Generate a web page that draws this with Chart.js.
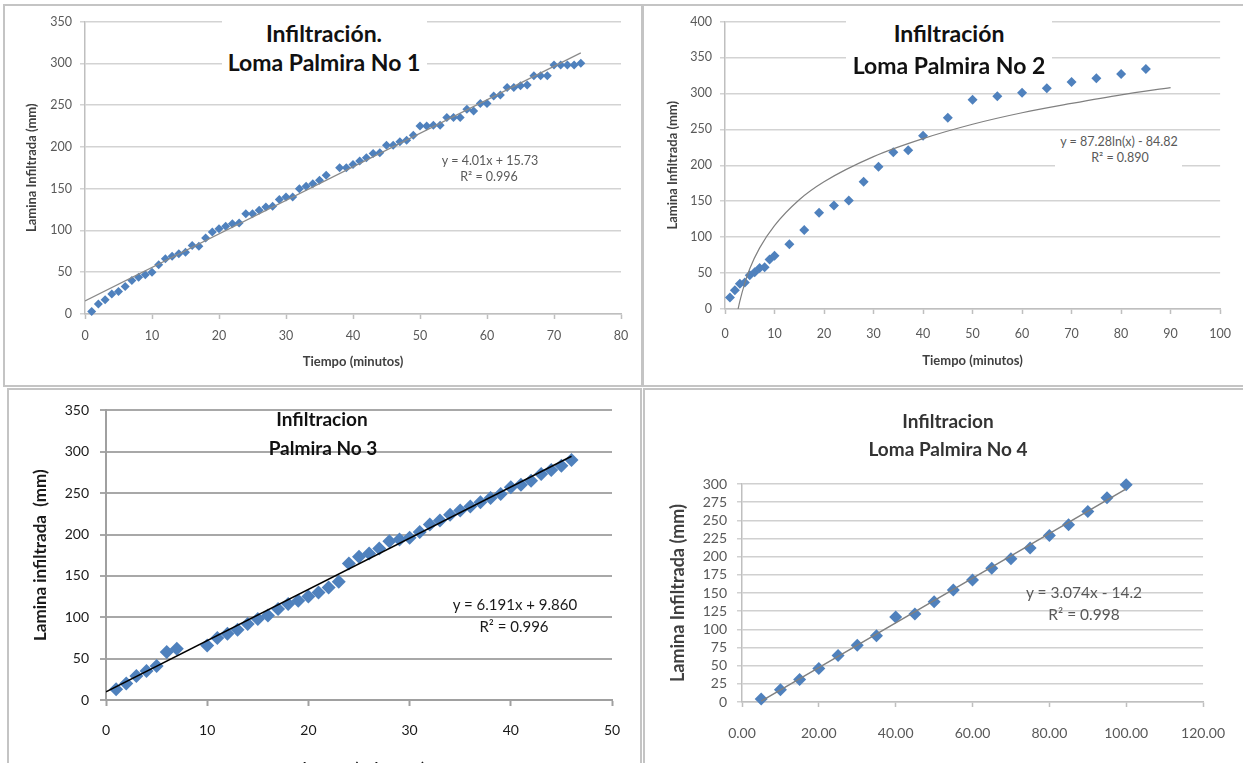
<!DOCTYPE html>
<html>
<head>
<meta charset="utf-8">
<script src="https://cdn.jsdelivr.net/npm/chart.js@4.4.0/dist/chart.umd.min.js"></script>
<style>
  html, body { margin: 0; padding: 0; background: #fff; }
  body { width: 1243px; height: 763px; overflow: hidden; position: relative; font-family: Lato, 'Open Sans', sans-serif; }
  .panel { position: absolute; border: 2px solid #c4c4c4; box-sizing: border-box; }
  .box { position: absolute; }
  .box canvas { display: block; }
  .txt { position: absolute; transform: translate(-50%, -50%); white-space: nowrap; line-height: 1; }
  .white { position: absolute; background: #fff; }
  .big { font-size: 23px; font-weight: bold; color: #111; }
  .eq { font-size: 12.5px; color: #595959; }
</style>
</head>
<body>
<div class="panel" style="left:3px;top:4px;width:640px;height:383px"></div>
<div class="panel" style="left:642px;top:4px;width:605px;height:383px"></div>
<div class="panel" style="left:7px;top:388px;width:635px;height:390px"></div>
<div class="panel" style="left:643px;top:388px;width:605px;height:390px"></div>

<div class="box" style="left:5px;top:6px"><canvas id="c1" width="635" height="379"></canvas></div>
<div class="box" style="left:645px;top:6px"><canvas id="c2" width="598" height="379"></canvas></div>
<div class="box" style="left:9px;top:391px"><canvas id="c3" width="630" height="390"></canvas></div>
<div class="box" style="left:645px;top:391px"><canvas id="c4" width="598" height="390"></canvas></div>

<!-- chart 1 texts -->
<div class="white" style="left:222px;top:12px;width:205px;height:66px"></div>
<div class="txt big" style="left:324px;top:33px">Infiltración.</div>
<div class="txt big" style="left:324px;top:62px">Loma Palmira No 1</div>
<div class="txt eq" style="left:490px;top:161px">y = 4.01x + 15.73</div>
<div class="txt eq" style="left:489px;top:177px">R² = 0.996</div>

<!-- chart 2 texts -->
<div class="white" style="left:846px;top:12px;width:206px;height:66px"></div>
<div class="txt big" style="left:949px;top:33px">Infiltración</div>
<div class="txt big" style="left:949px;top:65px">Loma Palmira No 2</div>
<div class="white" style="left:1055px;top:132px;width:127px;height:36px"></div>
<div class="txt eq" style="left:1119px;top:142px">y = 87.28ln(x) - 84.82</div>
<div class="txt eq" style="left:1120px;top:158px">R² = 0.890</div>

<!-- chart 3 texts -->
<div class="txt" style="left:322px;top:418px;font-size:19px;font-weight:bold;color:#111">Infiltracion</div>
<div class="txt" style="left:323px;top:447px;font-size:19px;font-weight:bold;color:#111">Palmira No 3</div>
<div class="txt" style="left:515px;top:604px;font-size:15px;color:#1a1a1a">y = 6.191x + 9.860</div>
<div class="txt" style="left:514px;top:626px;font-size:15px;color:#1a1a1a">R² = 0.996</div>

<!-- chart 4 texts -->
<div class="txt" style="left:948px;top:420px;font-size:19px;font-weight:bold;color:#333">Infiltracion</div>
<div class="txt" style="left:948px;top:448px;font-size:19px;font-weight:bold;color:#333">Loma Palmira No 4</div>
<div class="txt" style="left:1084px;top:593px;font-size:15.5px;color:#595959">y = 3.074x - 14.2</div>
<div class="txt" style="left:1084px;top:615px;font-size:15.5px;color:#595959">R² = 0.998</div>

<script>
// Loma Palmira No 1
const time1 = [1, 2, 3, 4, 5, 6, 7, 8, 9, 10, 11, 12, 13, 14, 15, 16, 17, 18, 19, 20,
  21, 22, 23, 24, 25, 26, 27, 28, 29, 30, 31, 32, 33, 34, 35, 36, 38, 39, 40, 41,
  42, 43, 44, 45, 46, 47, 48, 49, 50, 51, 52, 53, 54, 55, 56, 57, 58, 59, 60, 61,
  62, 63, 64, 65, 66, 67, 68, 69, 70, 71, 72, 73, 74]
const lamina1 = [3, 12, 17, 24, 27, 33, 40, 44, 47, 50, 59, 66, 69, 72, 74, 82, 81, 91, 98, 102,
  105, 108, 109, 120, 120, 124, 128, 129, 137, 140, 140, 150, 153, 156, 160, 166, 175, 175, 179, 183,
  187, 192, 193, 202, 202, 206, 208, 214, 225, 225, 226, 226, 235, 235, 235, 245, 243, 252, 252, 261,
  262, 271, 271, 273, 274, 285, 285, 285, 298, 298, 298, 298, 300]
const trend1X = [0, 74]
const trend1Y = [15.7, 312.5]
const xTicks1 = [0, 10, 20, 30, 40, 50, 60, 70, 80]
const yTicks1 = [0, 50, 100, 150, 200, 250, 300, 350]

// Loma Palmira No 2
const time2 = [1, 2, 3, 4, 5, 6, 7, 8, 9, 10, 13, 16, 19, 22, 25, 28, 31, 34, 37, 40,
  45, 50, 55, 60, 65, 70, 75, 80, 85]
const lamina2 = [16, 26, 35, 37, 47, 51, 57, 58, 69, 74, 90, 110, 134, 144, 151, 177, 198, 218, 221, 241,
  266, 291, 296, 301, 307, 316, 321, 327, 334]
const trend2X = [2.64, 3, 4, 5, 7, 10, 15, 20, 30, 40, 50, 60, 70, 80, 90]
const trend2Y = [0, 11, 36, 56, 85, 116, 152, 177, 212, 237, 257, 273, 286, 298, 308]
const xTicks2 = [0, 10, 20, 30, 40, 50, 60, 70, 80, 90, 100]
const yTicks2 = [0, 50, 100, 150, 200, 250, 300, 350, 400]

// Palmira No 3
const time3 = [1, 2, 3, 4, 5, 6, 7, 10, 11, 12, 13, 14, 15, 16, 17, 18, 19, 20, 21, 22,
  23, 24, 25, 26, 27, 28, 29, 30, 31, 32, 33, 34, 35, 36, 37, 38, 39, 40, 41, 42,
  43, 44, 45, 46]
const lamina3 = [13, 20, 29, 35, 41, 58, 62, 66, 75, 80, 85, 92, 98, 102, 110, 116, 120, 125, 130, 136,
  143, 165, 173, 177, 183, 192, 194, 196, 203, 212, 217, 224, 229, 234, 239, 244, 249, 257, 260, 265,
  273, 278, 283, 290]
const trend3X = [0, 46]
const trend3Y = [9.9, 294.6]
const xTicks3 = [0, 10, 20, 30, 40, 50]
const yTicks3 = [0, 50, 100, 150, 200, 250, 300, 350]

// Loma Palmira No 4
const time4 = [5, 10, 15, 20, 25, 30, 35, 40, 45, 50, 55, 60, 65, 70, 75, 80, 85, 90, 95, 100]
const lamina4 = [4, 17, 31, 46, 64, 78, 91, 117, 121, 138, 154, 168, 184, 197, 212, 229, 244, 262, 281, 299]
const trend4X = [5, 100]
const trend4Y = [1.2, 293.2]
const xTicks4 = [0, 20, 40, 60, 80, 100, 120]
const yTicks4 = [0, 25, 50, 75, 100, 125, 150, 175, 200, 225, 250, 275, 300]

const BLUE = '#4f81bd'
Chart.defaults.font.family = 'Lato'

function points(xs, ys) {
  return xs.map((x, i) => ({ x: x, y: ys[i] }))
}

function makeChart(id, box, area, o) {
  const padTop = area.top - box.top
  const padRight = box.left + box.width - area.right
  const yWidth = area.left - box.left
  const xHeight = box.top + box.height - area.bottom
  const lh = o.titleSize * 1.2
  const yTitlePad = o.yTitleX - box.left - lh / 2
  const xTitlePad = box.top + box.height - o.xTitleY - lh / 2
  const tickFont = { size: o.tickSize, lineHeight: 1.2 }
  const titleFont = { size: o.titleSize, weight: 'bold' }

  return new Chart(document.getElementById(id), {
    type: 'scatter',
    data: {
      datasets: [
        {
          data: points(o.trendX, o.trendY),
          showLine: true,
          borderColor: o.trendColor,
          borderWidth: o.trendWidth,
          pointRadius: 0,
          cubicInterpolationMode: 'monotone',
        },
        {
          data: points(o.xs, o.ys),
          pointStyle: 'rectRot',
          pointRadius: o.marker,
          backgroundColor: BLUE,
          borderColor: BLUE,
          borderWidth: 0,
          clip: false,
        },
      ],
    },
    options: {
      responsive: false,
      animation: false,
      layout: { padding: { top: padTop, right: padRight, left: 0, bottom: 0 } },
      plugins: { legend: { display: false }, tooltip: { enabled: false } },
      scales: {
        x: {
          type: 'linear',
          min: o.xTicks[0],
          max: o.xTicks[o.xTicks.length - 1],
          afterBuildTicks: (s) => { s.ticks = o.xTicks.map((v) => ({ value: v })) },
          afterFit: (s) => { s.height = xHeight },
          ticks: {
            color: o.tickColor,
            font: tickFont,
            padding: o.padX,
            maxRotation: 0,
            autoSkip: false,
            callback: (v) => (o.xDecimals ? v.toFixed(2) : v),
          },
          grid: {
            drawOnChartArea: false,
            tickLength: o.tickLen,
            tickColor: o.axisColor,
            tickWidth: o.gridWidth,
          },
          border: { color: o.axisColor, width: o.gridWidth },
          title: {
            display: true,
            text: o.xTitle,
            color: o.titleColor,
            font: titleFont,
            padding: { top: 0, bottom: xTitlePad },
          },
        },
        y: {
          type: 'linear',
          min: o.yTicks[0],
          max: o.yTicks[o.yTicks.length - 1],
          afterBuildTicks: (s) => { s.ticks = o.yTicks.map((v) => ({ value: v })) },
          afterFit: (s) => { s.width = yWidth },
          ticks: { color: o.tickColor, font: tickFont, padding: o.padY, autoSkip: false },
          grid: {
            color: o.gridColor,
            lineWidth: o.gridWidth,
            tickLength: o.tickLen,
            tickColor: o.gridColor,
          },
          border: { color: o.axisColor, width: o.gridWidth },
          title: {
            display: true,
            text: o.yTitle,
            color: o.titleColor,
            font: titleFont,
            padding: { top: yTitlePad, bottom: 0 },
          },
        },
      },
    },
  })
}

makeChart('c1', { left: 5, top: 6, width: 635, height: 379 }, { left: 85, right: 621, top: 21, bottom: 314 }, {
  xs: time1, ys: lamina1, trendX: trend1X, trendY: trend1Y, xTicks: xTicks1, yTicks: yTicks1,
  trendColor: '#8a8a8a', trendWidth: 1.2, marker: 4.5,
  tickSize: 12.5, tickColor: '#595959', padX: 9, padY: 8, tickLen: 5,
  gridColor: '#d3d3d3', gridWidth: 1.5, axisColor: '#bfbfbf',
  xTitle: 'Tiempo (minutos)', yTitle: 'Lamina Infiltrada (mm)', titleSize: 13, titleColor: '#404040',
  yTitleX: 32, xTitleY: 362,
})

makeChart('c2', { left: 645, top: 6, width: 598, height: 379 }, { left: 725, right: 1227, top: 20.5, bottom: 309 }, {
  xs: time2, ys: lamina2, trendX: trend2X, trendY: trend2Y, xTicks: xTicks2, yTicks: yTicks2,
  trendColor: '#808080', trendWidth: 1.2, marker: 5,
  tickSize: 12.5, tickColor: '#595959', padX: 12, padY: 8, tickLen: 5,
  gridColor: '#d3d3d3', gridWidth: 1.5, axisColor: '#bfbfbf',
  xTitle: 'Tiempo (minutos)', yTitle: 'Lamina Infiltrada (mm)', titleSize: 13, titleColor: '#404040',
  yTitleX: 673, xTitleY: 361,
})

makeChart('c3', { left: 9, top: 391, width: 630, height: 390 }, { left: 106, right: 612, top: 409, bottom: 700 }, {
  xs: time3, ys: lamina3, trendX: trend3X, trendY: trend3Y, xTicks: xTicks3, yTicks: yTicks3,
  trendColor: '#000000', trendWidth: 1.5, marker: 7,
  tickSize: 14, tickColor: '#1a1a1a', padX: 16, padY: 11, tickLen: 6,
  gridColor: '#a8a8a8', gridWidth: 2, axisColor: '#a0a0a0',
  xTitle: 'Tiempo (Minutos)', yTitle: 'Lamina infiltrada  (mm)', titleSize: 17, titleColor: '#1a1a1a',
  yTitleX: 41, xTitleY: 770,
})

makeChart('c4', { left: 645, top: 391, width: 598, height: 390 }, { left: 742, right: 1212, top: 484, bottom: 702 }, {
  xs: time4, ys: lamina4, trendX: trend4X, trendY: trend4Y, xTicks: xTicks4, yTicks: yTicks4, xDecimals: true,
  trendColor: '#808080', trendWidth: 1.5, marker: 6.5,
  tickSize: 14, tickColor: '#595959', padX: 18, padY: 10, tickLen: 5,
  gridColor: '#d0d0d0', gridWidth: 1.5, axisColor: '#bfbfbf',
  xTitle: 'Tiempo (minutos)', yTitle: 'Lamina Infiltrada (mm)', titleSize: 18, titleColor: '#404040',
  yTitleX: 678, xTitleY: 772,
})
</script>
</body>
</html>
